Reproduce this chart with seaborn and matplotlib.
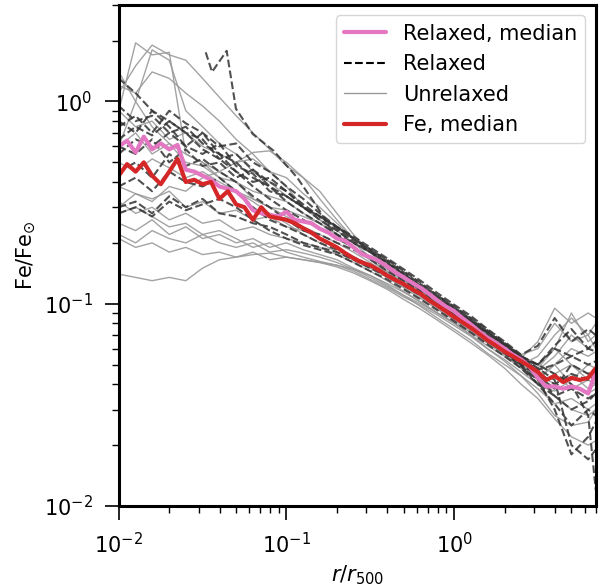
import numpy as np
import pandas as pd
import matplotlib
matplotlib.use("Agg")
import matplotlib.pyplot as plt
import seaborn as sns
from matplotlib.lines import Line2D

# ---------------- data ----------------
# radial bins for individual cluster profiles (r / r500)
r_bins = [0.0100, 0.0126, 0.0158, 0.0200, 0.0251, 0.0316, 0.0398, 0.0501, 0.0631, 0.0794,
          0.100, 0.126, 0.158, 0.200, 0.251, 0.316, 0.398, 0.501, 0.631, 0.794,
          1.00, 1.26, 1.58, 2.00, 2.51, 3.16, 3.98, 5.01, 6.31, 7.00]

# unrelaxed clusters (Fe / Fe_sun)
unrelaxed_1 = [1.1, 1.5, 1.9, 1.7, 1.6, 1.3, 1.05, 0.85, 0.70, 0.58, 0.48, 0.42, 0.36, 0.28, 0.22, 0.18, 0.15, 0.13, 0.115, 0.10, 0.09, 0.08, 0.07, 0.062, 0.055, 0.05, 0.045, 0.05, 0.042, 0.04]
unrelaxed_2 = [0.9, 1.95, 1.7, 1.75, 0.55, 0.50, 0.45, 0.40, 0.33, 0.30, 0.27, 0.24, 0.22, 0.20, 0.18, 0.16, 0.14, 0.125, 0.11, 0.098, 0.088, 0.078, 0.07, 0.06, 0.052, 0.048, 0.06, 0.05, 0.045, 0.047]
unrelaxed_3 = [0.6, 1.0, 1.8, 1.6, 0.9, 0.75, 0.62, 0.55, 0.45, 0.40, 0.34, 0.30, 0.26, 0.23, 0.20, 0.17, 0.15, 0.13, 0.118, 0.105, 0.092, 0.082, 0.072, 0.064, 0.056, 0.06, 0.08, 0.065, 0.07, 0.06]
unrelaxed_4 = [1.4, 1.0, 0.75, 0.62, 0.55, 0.5, 0.42, 0.4, 0.36, 0.34, 0.32, 0.28, 0.25, 0.22, 0.19, 0.165, 0.145, 0.125, 0.11, 0.098, 0.088, 0.078, 0.068, 0.058, 0.05, 0.042, 0.035, 0.03, 0.028, 0.03]
unrelaxed_5 = [0.5, 0.45, 0.52, 0.47, 0.42, 0.45, 0.4, 0.36, 0.33, 0.3, 0.29, 0.27, 0.25, 0.22, 0.19, 0.165, 0.142, 0.125, 0.11, 0.097, 0.086, 0.076, 0.066, 0.057, 0.05, 0.045, 0.04, 0.045, 0.038, 0.04]
unrelaxed_6 = [0.32, 0.28, 0.3, 0.26, 0.28, 0.25, 0.26, 0.23, 0.24, 0.22, 0.21, 0.2, 0.19, 0.175, 0.16, 0.145, 0.13, 0.115, 0.102, 0.09, 0.08, 0.07, 0.062, 0.055, 0.048, 0.043, 0.05, 0.04, 0.036, 0.038]
unrelaxed_7 = [0.25, 0.23, 0.26, 0.22, 0.24, 0.21, 0.22, 0.2, 0.21, 0.19, 0.2, 0.185, 0.175, 0.165, 0.15, 0.138, 0.124, 0.11, 0.097, 0.085, 0.075, 0.066, 0.057, 0.05, 0.044, 0.038, 0.032, 0.034, 0.03, 0.032]
unrelaxed_8 = [0.21, 0.19, 0.2, 0.18, 0.19, 0.175, 0.18, 0.17, 0.18, 0.165, 0.17, 0.165, 0.16, 0.152, 0.142, 0.13, 0.118, 0.105, 0.094, 0.083, 0.073, 0.064, 0.056, 0.048, 0.04, 0.034, 0.027, 0.022, 0.02, 0.021]
unrelaxed_9 = [0.14, 0.135, 0.13, 0.135, 0.13, 0.15, 0.165, 0.17, 0.175, 0.178, 0.17, 0.165, 0.16, 0.155, 0.145, 0.132, 0.12, 0.108, 0.098, 0.088, 0.078, 0.069, 0.06, 0.053, 0.046, 0.04, 0.037, 0.042, 0.05, 0.048]
unrelaxed_10 = [0.38, 0.35, 0.33, 0.36, 0.3, 0.32, 0.28, 0.29, 0.26, 0.27, 0.24, 0.23, 0.21, 0.19, 0.17, 0.155, 0.14, 0.122, 0.108, 0.095, 0.084, 0.074, 0.065, 0.057, 0.05, 0.055, 0.07, 0.085, 0.07, 0.08]
unrelaxed_11 = [0.9, 0.75, 0.8, 0.65, 0.7, 0.6, 0.55, 0.5, 0.52, 0.45, 0.42, 0.35, 0.3, 0.25, 0.21, 0.18, 0.155, 0.135, 0.118, 0.104, 0.093, 0.082, 0.072, 0.063, 0.055, 0.05, 0.06, 0.09, 0.065, 0.07]
unrelaxed_12 = [0.3, 0.35, 0.32, 0.38, 0.36, 0.42, 0.45, 0.5, 0.56, 0.57, 0.5, 0.42, 0.33, 0.26, 0.21, 0.18, 0.155, 0.135, 0.118, 0.104, 0.092, 0.081, 0.07, 0.061, 0.054, 0.065, 0.095, 0.08, 0.09, 0.085]
unrelaxed_13 = [0.22, 0.2, 0.23, 0.21, 0.2, 0.22, 0.2, 0.19, 0.2, 0.18, 0.185, 0.178, 0.17, 0.16, 0.148, 0.135, 0.122, 0.11, 0.1, 0.09, 0.081, 0.072, 0.064, 0.056, 0.049, 0.042, 0.05, 0.06, 0.055, 0.058]
unrelaxed_14 = [0.28, 0.3, 0.27, 0.24, 0.25, 0.22, 0.23, 0.21, 0.19, 0.2, 0.18, 0.17, 0.162, 0.155, 0.148, 0.138, 0.126, 0.114, 0.102, 0.09, 0.08, 0.07, 0.06, 0.052, 0.044, 0.036, 0.028, 0.025, 0.026, 0.03]
unrelaxed_15 = [1.2, 1.1, 1.4, 1.3, 1.1, 0.95, 0.8, 0.65, 0.55, 0.45, 0.38, 0.3, 0.26, 0.22, 0.19, 0.165, 0.145, 0.128, 0.112, 0.1, 0.09, 0.08, 0.07, 0.062, 0.054, 0.047, 0.055, 0.07, 0.06, 0.065]
unrelaxed_16 = [0.6, 0.7, 0.55, 0.62, 0.5, 0.48, 0.42, 0.36, 0.32, 0.28, 0.25, 0.22, 0.2, 0.18, 0.165, 0.15, 0.135, 0.12, 0.106, 0.094, 0.083, 0.073, 0.064, 0.056, 0.048, 0.04, 0.045, 0.038, 0.042, 0.04]

# relaxed clusters (Fe / Fe_sun)
relaxed_2 = [0.95, 0.8, 0.85, 0.7, 0.75, 0.62, 0.55, 0.5, 0.42, 0.38, 0.32, 0.28, 0.25, 0.22, 0.2, 0.18, 0.16, 0.14, 0.122, 0.107, 0.094, 0.082, 0.072, 0.062, 0.053, 0.046, 0.04, 0.045, 0.042, 0.044]
relaxed_3 = [0.75, 0.85, 0.7, 0.9, 0.78, 0.7, 0.6, 0.62, 0.5, 0.45, 0.38, 0.33, 0.28, 0.24, 0.21, 0.185, 0.165, 0.145, 0.127, 0.11, 0.097, 0.085, 0.074, 0.064, 0.055, 0.05, 0.062, 0.075, 0.06, 0.065]
relaxed_4 = [0.55, 0.65, 0.6, 0.7, 0.6, 0.55, 0.62, 0.48, 0.44, 0.36, 0.34, 0.3, 0.26, 0.23, 0.2, 0.18, 0.158, 0.14, 0.122, 0.107, 0.093, 0.081, 0.07, 0.06, 0.05, 0.04, 0.032, 0.025, 0.03, 0.028]
relaxed_5 = [0.3, 0.32, 0.28, 0.34, 0.3, 0.33, 0.28, 0.27, 0.25, 0.24, 0.22, 0.2, 0.19, 0.18, 0.165, 0.15, 0.137, 0.123, 0.11, 0.098, 0.087, 0.076, 0.066, 0.057, 0.049, 0.042, 0.03, 0.018, 0.022, 0.026]
relaxed_6 = [0.45, 0.5, 0.42, 0.55, 0.48, 0.52, 0.45, 0.4, 0.34, 0.3, 0.26, 0.23, 0.22, 0.2, 0.185, 0.17, 0.152, 0.135, 0.12, 0.105, 0.093, 0.082, 0.072, 0.063, 0.055, 0.05, 0.045, 0.04, 0.028, 0.012]
relaxed_7 = [0.8, 0.7, 0.9, 0.75, 0.6, 0.7, 0.55, 0.45, 0.4, 0.42, 0.36, 0.3, 0.27, 0.24, 0.215, 0.19, 0.168, 0.148, 0.13, 0.113, 0.099, 0.087, 0.075, 0.065, 0.056, 0.062, 0.085, 0.065, 0.075, 0.07]
relaxed_8 = [0.38, 0.42, 0.36, 0.45, 0.4, 0.38, 0.42, 0.36, 0.3, 0.26, 0.24, 0.22, 0.2, 0.185, 0.17, 0.155, 0.14, 0.126, 0.112, 0.1, 0.088, 0.077, 0.067, 0.058, 0.05, 0.044, 0.038, 0.05, 0.045, 0.048]
relaxed_9 = [0.6, 0.55, 0.65, 0.5, 0.58, 0.48, 0.5, 0.42, 0.46, 0.38, 0.34, 0.3, 0.27, 0.24, 0.21, 0.186, 0.163, 0.143, 0.125, 0.11, 0.096, 0.084, 0.073, 0.063, 0.054, 0.047, 0.05, 0.055, 0.06, 0.058]
relaxed_10 = [0.28, 0.3, 0.27, 0.32, 0.29, 0.31, 0.33, 0.3, 0.26, 0.23, 0.21, 0.195, 0.185, 0.175, 0.16, 0.145, 0.132, 0.118, 0.105, 0.093, 0.082, 0.072, 0.063, 0.055, 0.048, 0.04, 0.035, 0.038, 0.034, 0.036]
relaxed_11 = [1.3, 1.1, 0.9, 0.8, 0.7, 0.58, 0.52, 0.45, 0.38, 0.33, 0.29, 0.26, 0.235, 0.21, 0.19, 0.17, 0.15, 0.133, 0.117, 0.103, 0.09, 0.079, 0.069, 0.06, 0.052, 0.045, 0.035, 0.03, 0.033, 0.036]
relaxed_12 = [0.65, 0.75, 0.68, 0.8, 0.7, 0.65, 0.52, 0.55, 0.46, 0.4, 0.36, 0.31, 0.27, 0.235, 0.205, 0.182, 0.16, 0.14, 0.123, 0.108, 0.095, 0.083, 0.072, 0.063, 0.055, 0.048, 0.042, 0.02, 0.017, 0.019]

# one relaxed cluster only measured beyond ~0.03 r500
r_relaxed_1 = [0.033, 0.036, 0.044, 0.050, 0.063, 0.084, 0.116, 0.153, 0.18, 0.20, 0.25, 0.32, 0.40,
               0.50, 0.63, 0.79, 1.00, 1.26, 1.58, 2.00, 2.51, 3.16, 3.98, 5.01, 6.31, 7.00]
relaxed_1 = [1.75, 1.40, 1.78, 0.92, 0.69, 0.57, 0.42, 0.30, 0.24, 0.22, 0.19, 0.165, 0.145,
             0.13, 0.115, 0.10, 0.088, 0.078, 0.068, 0.06, 0.053, 0.05, 0.06, 0.055, 0.05, 0.052]

# medians (finer radial sampling)
r_median = [0.0100, 0.0112, 0.0126, 0.0141, 0.0158, 0.0178, 0.0200, 0.0224, 0.0251, 0.0282,
            0.0316, 0.0355, 0.0398, 0.0447, 0.0501, 0.0562, 0.0631, 0.0708, 0.0794, 0.0891,
            0.100, 0.112, 0.126, 0.141, 0.158, 0.178, 0.200, 0.224, 0.251, 0.282,
            0.316, 0.355, 0.398, 0.447, 0.501, 0.562, 0.631, 0.708, 0.794, 0.891,
            1.00, 1.12, 1.26, 1.41, 1.58, 1.78, 2.00, 2.24, 2.51, 2.82,
            3.16, 3.55, 3.98, 4.47, 5.01, 5.62, 6.31, 7.00]
fe_median = [0.43, 0.49, 0.45, 0.50, 0.43, 0.39, 0.45, 0.52, 0.40, 0.41,
             0.39, 0.40, 0.33, 0.36, 0.31, 0.30, 0.26, 0.30, 0.27, 0.265,
             0.26, 0.25, 0.236, 0.225, 0.21, 0.20, 0.19, 0.178, 0.168, 0.16,
             0.155, 0.147, 0.138, 0.131, 0.125, 0.118, 0.112, 0.104, 0.098, 0.092,
             0.086, 0.081, 0.076, 0.071, 0.066, 0.062, 0.058, 0.055, 0.052, 0.049,
             0.046, 0.042, 0.044, 0.041, 0.043, 0.042, 0.043, 0.048]
relaxed_median = [0.60, 0.64, 0.56, 0.67, 0.58, 0.62, 0.58, 0.61, 0.46, 0.45,
                  0.43, 0.41, 0.38, 0.37, 0.36, 0.33, 0.29, 0.28, 0.275, 0.27,
                  0.285, 0.26, 0.255, 0.25, 0.235, 0.225, 0.21, 0.205, 0.19, 0.176,
                  0.17, 0.163, 0.153, 0.143, 0.135, 0.127, 0.12, 0.112, 0.104, 0.097,
                  0.092, 0.085, 0.079, 0.073, 0.068, 0.064, 0.060, 0.056, 0.053, 0.049,
                  0.043, 0.039, 0.039, 0.038, 0.039, 0.038, 0.036, 0.046]

legend_labels = ["Relaxed, median", "Relaxed", "Unrelaxed", "Fe, median"]

# ---------------- tables ----------------
unrelaxed_sets = [unrelaxed_1, unrelaxed_2, unrelaxed_3, unrelaxed_4, unrelaxed_5, unrelaxed_6,
                  unrelaxed_7, unrelaxed_8, unrelaxed_9, unrelaxed_10, unrelaxed_11, unrelaxed_12,
                  unrelaxed_13, unrelaxed_14, unrelaxed_15, unrelaxed_16]
relaxed_sets = [(r_relaxed_1, relaxed_1)] + [(r_bins, v) for v in
                [relaxed_2, relaxed_3, relaxed_4, relaxed_5, relaxed_6, relaxed_7,
                 relaxed_8, relaxed_9, relaxed_10, relaxed_11, relaxed_12]]

rows = []
for i, vals in enumerate(unrelaxed_sets):
    for r, v in zip(r_bins, vals):
        rows.append({"cluster": f"u{i}", "r": r, "fe": v})
df_unrel = pd.DataFrame(rows)

rows = []
for i, (rr, vals) in enumerate(relaxed_sets):
    for r, v in zip(rr, vals):
        rows.append({"cluster": f"r{i}", "r": r, "fe": v})
df_rel = pd.DataFrame(rows)

df_med = pd.DataFrame({"r": r_median, "fe": fe_median, "relaxed": relaxed_median})

# ---------------- plot ----------------
sns.set_style("ticks")
plt.rcParams["font.family"] = ["DejaVu Sans"]
plt.rcParams["mathtext.fontset"] = "dejavusans"
for key in ["text.color", "axes.labelcolor", "xtick.color", "ytick.color", "axes.edgecolor"]:
    plt.rcParams[key] = "black"

fig = plt.figure(figsize=(6.03, 5.86), dpi=100)
ax = fig.add_axes([0.197, 0.1365, 0.791, 0.855])

gray_col = "#999999"
dash_col = "#333333"
pink = "#e377c2"
red = "#d62728"

sns.lineplot(data=df_unrel, x="r", y="fe", units="cluster", estimator=None,
             color=gray_col, lw=1.0, alpha=0.9, ax=ax, legend=False)
sns.lineplot(data=df_rel, x="r", y="fe", units="cluster", estimator=None,
             color=dash_col, lw=1.5, alpha=0.85, ax=ax, legend=False, dashes=False)
for line in ax.get_lines()[len(unrelaxed_sets):]:
    line.set_linestyle("--")
sns.lineplot(data=df_med, x="r", y="relaxed", color=pink, lw=3, ax=ax)
sns.lineplot(data=df_med, x="r", y="fe", color=red, lw=3, ax=ax)

ax.set_xscale("log")
ax.set_yscale("log")
ax.set_xlim(0.01, 7.0)
ax.set_ylim(0.01, 3.0)
ax.set_xlabel(r"$r/r_{500}$", fontsize=15)
ax.set_ylabel(r"Fe/Fe$_{\odot}$", fontsize=15)
ax.tick_params(axis="both", which="major", labelsize=15, length=10, width=1.2, pad=9)
ax.tick_params(axis="both", which="minor", length=5, width=1.0)
for sp in ax.spines.values():
    sp.set_linewidth(2.2)
    sp.set_color("black")

handles = [Line2D([], [], color=pink, lw=3),
           Line2D([], [], color="black", lw=1.5, ls="--"),
           Line2D([], [], color=gray_col, lw=1.0),
           Line2D([], [], color=red, lw=3)]
ax.legend(handles, legend_labels, loc="upper right", fontsize=15, frameon=True)

fig.savefig("out.png", dpi=100)
